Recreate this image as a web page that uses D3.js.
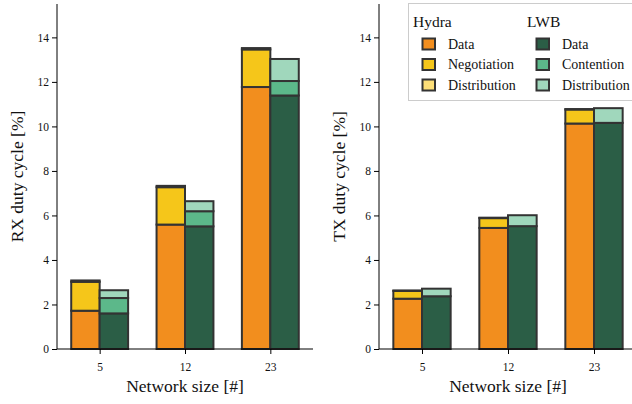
<!DOCTYPE html>
<html>
<head>
<meta charset="utf-8">
<script src="https://cdn.jsdelivr.net/npm/d3@7"></script>
<style>
  html, body { margin: 0; padding: 0; background: #fff; }
  svg { display: block; }
</style>
</head>
<body>
<svg id="chart" width="632" height="404"></svg>
<script>
// Network sizes on the x axis
const networkSizes = ["5", "12", "23"];
const yTicks = [0, 2, 4, 6, 8, 10, 12, 14];

// RX duty cycle components [%]
const rxHydraData         = [1.72, 5.59, 11.77];
const rxHydraNegotiation  = [1.30, 1.68, 1.69];
const rxHydraDistribution = [0.06, 0.06, 0.06];
const rxLwbData           = [1.60, 5.51, 11.39];
const rxLwbContention     = [0.69, 0.68, 0.65];
const rxLwbDistribution   = [0.35, 0.45, 0.99];

// TX duty cycle components [%]
const txHydraData         = [2.26, 5.44, 10.13];
const txHydraNegotiation  = [0.35, 0.44, 0.63];
const txHydraDistribution = [0.02, 0.02, 0.02];
const txLwbData           = [2.37, 5.52, 10.16];
const txLwbContention     = [0.00, 0.00, 0.00];
const txLwbDistribution   = [0.34, 0.49, 0.66];

const hydraColors = ["#F28E1E", "#F5C61A", "#FDDF78"];
const lwbColors   = ["#2B5E46", "#5CB88A", "#A0D7BC"];
const hydraLabels = ["Data", "Negotiation", "Distribution"];
const lwbLabels   = ["Data", "Contention", "Distribution"];

const FONT = '"Liberation Serif"';
const svg = d3.select("#chart");

function drawPanel(opts) {
  const { left, right, top, bottom, yLabel, hydra, lwb } = opts;
  const g = svg.append("g");

  // bar positions 0..n-1, x limits -0.5..n-0.5
  const x = d3.scaleLinear().domain([-0.5, networkSizes.length - 0.5]).range([left, right]);
  const y = d3.scaleLinear().domain([0, 15.5]).range([bottom, top]);
  const barW = 1 / 3;

  function stacks(series, offset, colors) {
    networkSizes.forEach((_, i) => {
      let base = 0;
      series.forEach((vals, k) => {
        const v = vals[i];
        g.append("rect")
          .attr("x", x(i + offset))
          .attr("y", y(base + v))
          .attr("width", x(i + offset + barW) - x(i + offset))
          .attr("height", y(base) - y(base + v))
          .attr("fill", colors[k])
          .attr("stroke", "#333")
          .attr("stroke-width", 2);
        base += v;
      });
    });
  }
  stacks(hydra, -barW, hydraColors);
  stacks(lwb, 0, lwbColors);

  // y axis
  const yAxis = d3.axisLeft(y).tickValues(yTicks).tickSize(5).tickPadding(3);
  const ya = g.append("g").attr("transform", `translate(${left},0)`).call(yAxis)
    .attr("font-family", null).attr("font-size", null);
  ya.select(".domain").attr("d", `M0,${bottom}V${top}`).attr("stroke", "#000");
  ya.selectAll(".tick line").attr("stroke", "#000");
  ya.selectAll("text").style("font-family", FONT).style("font-size", "11.5px").attr("fill", "#111");

  // x axis
  const xAxis = d3.axisBottom(x).tickValues(networkSizes.map((_, i) => i))
    .tickFormat(i => networkSizes[i]).tickSize(5).tickPadding(9);
  const xa = g.append("g").attr("transform", `translate(0,${bottom})`).call(xAxis)
    .attr("font-family", null).attr("font-size", null);
  xa.select(".domain").attr("d", `M${left},0H${right}`).attr("stroke", "#000");
  xa.selectAll(".tick line").attr("stroke", "#000");
  xa.selectAll("text").style("font-family", FONT).style("font-size", "11.5px").attr("fill", "#111");

  g.append("text")
    .attr("x", (x(-0.5) + x(2.5)) / 2)
    .attr("y", 392)
    .attr("text-anchor", "middle")
    .style("font-family", FONT).style("font-size", "17.5px").attr("fill", "#111")
    .text("Network size [#]");

  g.append("text")
    .attr("transform", `translate(${left - 34},${(top + bottom) / 2}) rotate(-90)`)
    .attr("text-anchor", "middle")
    .style("font-family", FONT).style("font-size", "17.5px").attr("fill", "#111")
    .text(yLabel);
}

drawPanel({
  left: 57, right: 313, top: 4, bottom: 349,
  yLabel: "RX duty cycle [%]",
  hydra: [rxHydraData, rxHydraNegotiation, rxHydraDistribution],
  lwb: [rxLwbData, rxLwbContention, rxLwbDistribution]
});

drawPanel({
  left: 379, right: 637, top: 4, bottom: 349,
  yLabel: "TX duty cycle [%]",
  hydra: [txHydraData, txHydraNegotiation, txHydraDistribution],
  lwb: [txLwbData, txLwbContention, txLwbDistribution]
});

// Legend: two titled columns inside one framed box
const legend = svg.append("g");
legend.append("rect")
  .attr("x", 408.5).attr("y", 3.5).attr("width", 240).attr("height", 97)
  .attr("fill", "#fff").attr("fill-opacity", 0.85)
  .attr("stroke", "#ccc").attr("stroke-width", 1);

function legendColumn(x0, title, labels, colors) {
  legend.append("text").attr("x", x0).attr("y", 27)
    .style("font-family", FONT).style("font-size", "15.5px").attr("fill", "#111").text(title);
  labels.forEach((lab, k) => {
    const cy = 44 + k * 20.5;
    legend.append("rect")
      .attr("x", x0 + 9.5).attr("y", cy - 5.5).attr("width", 12.5).attr("height", 11)
      .attr("fill", colors[k]).attr("stroke", "#333").attr("stroke-width", 2);
    legend.append("text").attr("x", x0 + 35).attr("y", cy + 4.5)
      .style("font-family", FONT).style("font-size", "14px").attr("fill", "#111").text(lab);
  });
}
legendColumn(413, "Hydra", hydraLabels, hydraColors);
legendColumn(527, "LWB", lwbLabels, lwbColors);
</script>
</body>
</html>
